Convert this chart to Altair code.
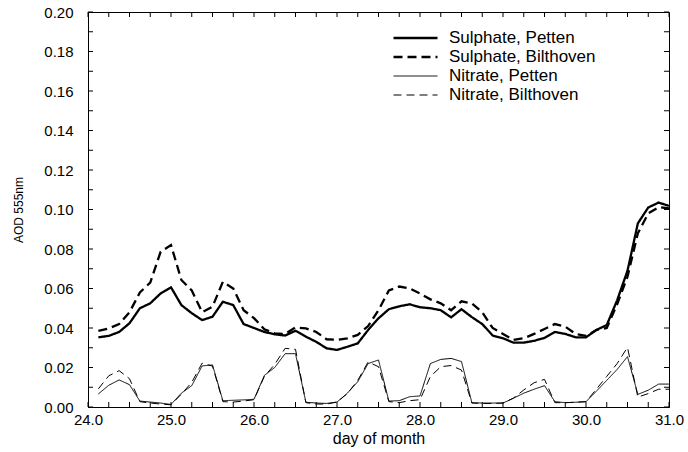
import altair as alt
import pandas as pd

# day of month, 3-hourly
days = [24 + 0.125 * (i + 1) for i in range(56)]

sulphate_petten = [
    0.0353, 0.0360, 0.0380, 0.0424, 0.0500, 0.0525, 0.0575, 0.0606,
    0.0516, 0.0475, 0.0440, 0.0457, 0.0533, 0.0516, 0.0420, 0.0400,
    0.0380, 0.0368, 0.0362, 0.0386, 0.0356, 0.0330, 0.0297, 0.0289,
    0.0305, 0.0322, 0.0390, 0.0449, 0.0495, 0.0510, 0.0520, 0.0505,
    0.0500, 0.0490, 0.0454, 0.0495, 0.0455, 0.0420, 0.0362, 0.0348,
    0.0326, 0.0326, 0.0335, 0.0350, 0.0380, 0.0370, 0.0353, 0.0353,
    0.0390, 0.0415, 0.0540, 0.0690, 0.0930, 0.1010, 0.1035, 0.1018,
]
sulphate_bilthoven = [
    0.0386, 0.0398, 0.0420, 0.0480, 0.0580, 0.0630, 0.0786, 0.0820,
    0.0643, 0.0590, 0.0480, 0.0508, 0.0634, 0.0600, 0.0490, 0.0450,
    0.0393, 0.0373, 0.0370, 0.0403, 0.0398, 0.0380, 0.0343, 0.0340,
    0.0348, 0.0365, 0.0410, 0.0490, 0.0590, 0.0610, 0.0600, 0.0575,
    0.0545, 0.0525, 0.0490, 0.0535, 0.0525, 0.0480, 0.0400, 0.0370,
    0.0340, 0.0348, 0.0370, 0.0395, 0.0420, 0.0407, 0.0370, 0.0360,
    0.0390, 0.0400, 0.0520, 0.0660, 0.0880, 0.0980, 0.1012, 0.1005,
]
nitrate_petten = [
    0.0066, 0.0110, 0.0137, 0.0113, 0.0030, 0.0025, 0.0020, 0.0013,
    0.0070, 0.0108, 0.0208, 0.0213, 0.0032, 0.0034, 0.0036, 0.0039,
    0.0160, 0.0200, 0.0270, 0.0270, 0.0024, 0.0020, 0.0018, 0.0025,
    0.0070, 0.0128, 0.0220, 0.0238, 0.0030, 0.0032, 0.0052, 0.0056,
    0.0220, 0.0241, 0.0246, 0.0230, 0.0022, 0.0020, 0.0020, 0.0020,
    0.0044, 0.0070, 0.0090, 0.0108, 0.0027, 0.0022, 0.0024, 0.0027,
    0.0080, 0.0135, 0.0190, 0.0255, 0.0064, 0.0085, 0.0116, 0.0116,
]
nitrate_bilthoven = [
    0.0092, 0.0158, 0.0184, 0.0143, 0.0027, 0.0020, 0.0015, 0.0011,
    0.0065, 0.0125, 0.0222, 0.0207, 0.0027, 0.0025, 0.0030, 0.0037,
    0.0155, 0.0216, 0.0297, 0.0292, 0.0022, 0.0015, 0.0015, 0.0025,
    0.0068, 0.0135, 0.0228, 0.0204, 0.0027, 0.0022, 0.0032, 0.0037,
    0.0154, 0.0204, 0.0210, 0.0187, 0.0020, 0.0018, 0.0018, 0.0020,
    0.0045, 0.0086, 0.0123, 0.0140, 0.0022, 0.0022, 0.0024, 0.0027,
    0.0090, 0.0155, 0.0220, 0.0302, 0.0050, 0.0068, 0.0090, 0.0090,
]

series_names = ["Sulphate, Petten", "Sulphate, Bilthoven",
                "Nitrate, Petten", "Nitrate, Bilthoven"]
series_values = [sulphate_petten, sulphate_bilthoven,
                 nitrate_petten, nitrate_bilthoven]

x_labels = [24.0, 25.0, 26.0, 27.0, 28.0, 29.0, 30.0, 31.0]
y_labels = [0.00, 0.02, 0.04, 0.06, 0.08, 0.10, 0.12, 0.14, 0.16, 0.18, 0.20]
x_minor = [24 + 0.25 * i for i in range(29)]
y_minor = [0.01 * i for i in range(21)]

rows = []
for name, vals in zip(series_names, series_values):
    for d, v in zip(days, vals):
        rows.append({"day": d, "aod": v, "series": name})
df = pd.DataFrame(rows)

W, H = 581, 395
FONT = "Liberation Sans"

xscale = alt.Scale(domain=[24, 31], nice=False, zero=False)
yscale = alt.Scale(domain=[0, 0.2], nice=False)

xaxis = alt.Axis(values=x_labels, format=".1f", title="day of month",
                 labelPadding=5, titlePadding=3, labelFlush=False)
yaxis = alt.Axis(values=y_labels, format=".2f", title="AOD 555nm",
                 labelPadding=15, titlePadding=18, labelFlush=False)

legend = alt.Legend(
    title=None, orient="none", legendX=304, legendY=18,
    symbolType="stroke", symbolSize=1936, symbolStrokeColor="black",
    labelFont=FONT, labelFontSize=17, labelColor="black",
    labelOffset=10, clipHeight=16, rowPadding=2, padding=0, labelLimit=300,
)

lines = alt.Chart(df).mark_line(color="black").encode(
    x=alt.X("day:Q", scale=xscale, axis=xaxis),
    y=alt.Y("aod:Q", scale=yscale, axis=yaxis),
    strokeDash=alt.StrokeDash(
        "series:N",
        scale=alt.Scale(domain=series_names,
                        range=[[1, 0], [9, 5], [1, 0], [8, 5]]),
        legend=legend),
    strokeWidth=alt.StrokeWidth(
        "series:N",
        scale=alt.Scale(type="ordinal", domain=series_names,
                        range=[2.3, 2.3, 1, 1]),
        legend=legend),
    detail="series:N",
)

xt = pd.DataFrame({"t": x_minor})
yt = pd.DataFrame({"t": y_minor})

tick_bottom = alt.Chart(xt).mark_rule(color="black", strokeWidth=1).encode(
    x=alt.X("t:Q", scale=xscale, axis=xaxis), y=alt.value(H), y2=alt.value(H - 5))
tick_top = alt.Chart(xt).mark_rule(color="black", strokeWidth=1).encode(
    x=alt.X("t:Q", scale=xscale, axis=xaxis), y=alt.value(0), y2=alt.value(5))
tick_left = alt.Chart(yt).mark_rule(color="black", strokeWidth=1).encode(
    y=alt.Y("t:Q", scale=yscale, axis=yaxis), x=alt.value(0), x2=alt.value(5))
tick_right = alt.Chart(yt).mark_rule(color="black", strokeWidth=1).encode(
    y=alt.Y("t:Q", scale=yscale, axis=yaxis), x=alt.value(W), x2=alt.value(W - 5))

chart = alt.layer(lines, tick_bottom, tick_top, tick_left, tick_right).properties(
    width=W, height=H,
    autosize=alt.AutoSizeParams(type="none"),
    padding={"left": 88, "top": 12, "right": 19, "bottom": 45},
    background="white",
).configure_view(
    stroke="black", strokeWidth=1,
).configure_axis(
    grid=False, ticks=False, domainColor="black", domainWidth=1,
    labelFont=FONT, labelFontSize=15, labelColor="black",
    titleFont=FONT, titleFontSize=16, titleFontWeight="normal", titleColor="black",
).configure_axisY(
    titleFontSize=12,
)

chart.save("out.html", embed_options={"renderer": "svg", "actions": False})
